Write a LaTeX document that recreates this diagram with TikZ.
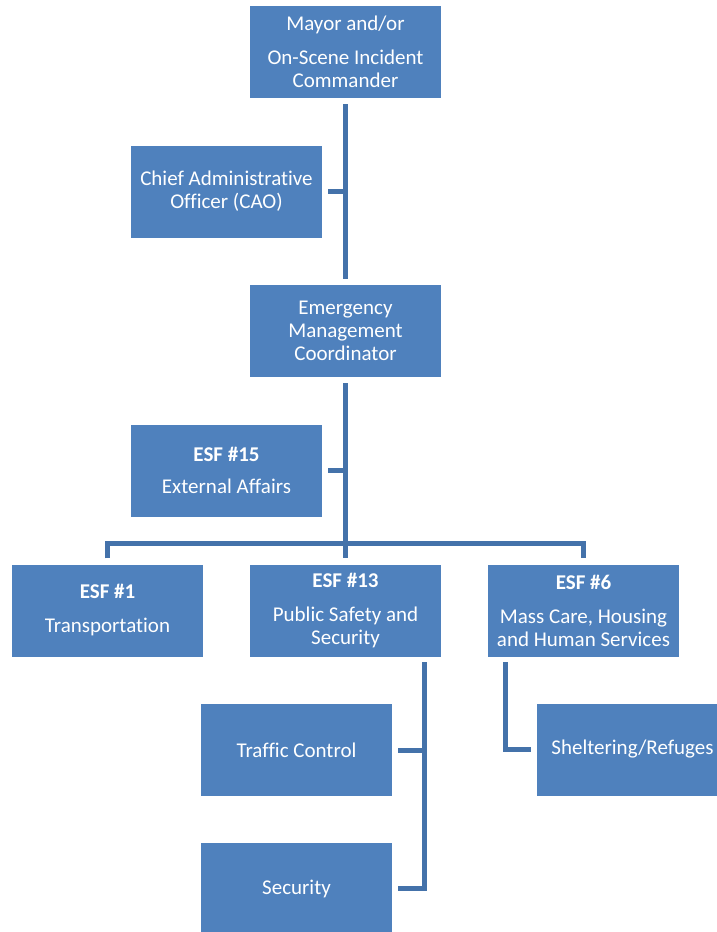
\documentclass[tikz,border=0pt]{standalone}
\usepackage{fontspec}
\setmainfont{Carlito}[Ligatures=NoCommon]
\usepackage{tikz}
\usetikzlibrary{positioning}
\definecolor{boxblue}{RGB}{79,129,189}
\definecolor{lineblue}{RGB}{68,114,170}
\tikzset{
		edgeStyle/.style = 	{line width = 5pt, color=lineblue},
		orgBox/.style = 	{rectangle, fill=boxblue, text=white, minimum width=191pt, minimum height=92pt,
		                   inner sep=0pt, align=center, font=\fontsize{21}{23}\selectfont},
		x=1pt, y=-1pt
}

\begin{document}
\begin{tikzpicture}
  \useasboundingbox (0,0) rectangle (717,932);

  % boxes
  \node [orgBox] (mayor) at (345.5,52) {Mayor and/or\\[11pt]On-Scene Incident\\Commander};
  \node [orgBox] (cao) at (226.5,191.5) {Chief Administrative\\Officer (CAO)};
  \node [orgBox] (emc) at (345.5,331) {Emergency\\Management\\Coordinator};
  \node [orgBox] (esf15) at (226.5,470.5) {\textbf{ESF \#15}\\[9pt]External Affairs};
  \node [orgBox] (esf1) at (107.5,610.5) {\textbf{ESF \#1}\\[11pt]Transportation};
  \node [orgBox] (esf13) at (345.5,610.5) {\textbf{ESF \#13}\\[11pt]Public Safety and\\Security};
  \node [orgBox] (esf6) at (583.5,610.5) {\textbf{ESF \#6}\\[11pt]Mass Care, Housing\\and Human Services};
  \node [orgBox] (traffic) at (296.5,750) {Traffic Control};
  \node [orgBox] (shelter) at (632.5,749.5) {Sheltering/Refuges};
  \node [orgBox] (security) at (296.5,889) {Security};

  % connectors
  \coordinate (bus) at (345.5,543);
  \coordinate (drop13) at (424,662);
  \coordinate (drop6) at (505,662);
  \coordinate (secLink) at (398,888.5);

  \draw [edgeStyle, shorten <=6pt, shorten >=6pt] (mayor) -- (emc);
  \foreach \staff/\boss in {cao/mayor, esf15/emc}
    \draw [edgeStyle, shorten <=6pt] (\staff.east) -- (\staff.east -| \boss.south);
  \draw [edgeStyle, shorten <=6pt, shorten >=6pt] (emc) -- (esf13);
  \draw [edgeStyle, shorten <=6pt, shorten >=6pt] (esf1.north) |- (bus) -| (esf6.north);

  \draw [edgeStyle] (drop13) |- (secLink);
  \draw [edgeStyle, shorten <=6pt] (traffic.east) -- (traffic.east -| drop13);
  \draw [edgeStyle] (drop6) |- ([xshift=-6pt]shelter.west);

\end{tikzpicture}
\end{document}
